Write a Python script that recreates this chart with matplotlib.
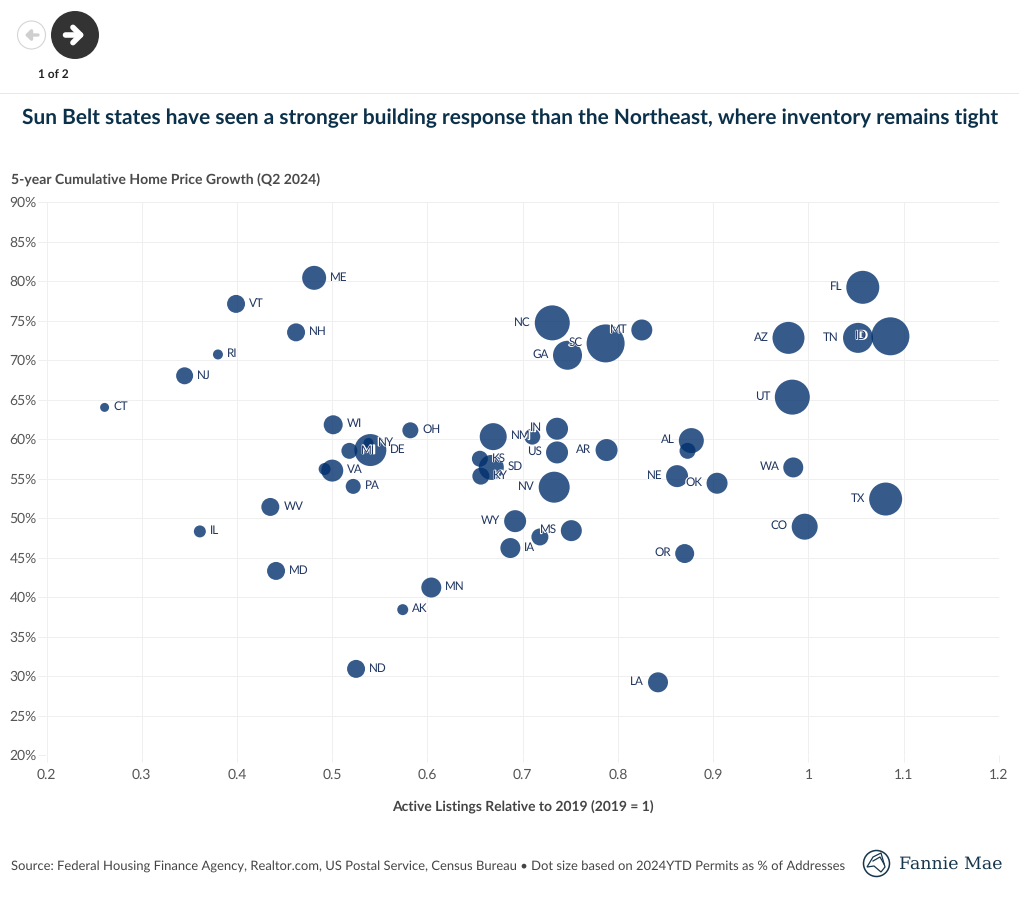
"""Sun Belt building response bubble chart (listings vs home price growth)."""
import matplotlib

matplotlib.use("Agg")
import matplotlib.patheffects as pe
import matplotlib.pyplot as plt
from matplotlib.patches import Circle, Polygon

# %% Data
states = ["ME", "VT", "NH", "RI", "NJ", "CT", "WI", "OH", "MI", "DE", "NY", "VA", "PA", "KS", "KY", "SD",
          "NM", "IN", "US", "AR", "NV", "WY", "IA", "MS", "MN", "AK", "ND", "IL", "MD", "WV", "LA", "OR",
          "CO", "TX", "WA", "OK", "NE", "AL", "AZ", "TN", "ID", "FL", "UT", "NC", "SC", "GA", "MT"]
listings = [0.481, 0.399, 0.462, 0.380, 0.345, 0.261, 0.501, 0.582, 0.518, 0.540, 0.538, 0.500, 0.522, 0.655, 0.656, 0.667,
            0.669, 0.736, 0.736, 0.788, 0.733, 0.692, 0.687, 0.751, 0.604, 0.574, 0.525, 0.361, 0.441, 0.435, 0.842, 0.870,
            0.996, 1.081, 0.984, 0.904, 0.862, 0.877, 0.979, 1.052, 1.086, 1.057, 0.983, 0.731, 0.787, 0.747, 0.825]
price_growth = [80.4, 77.1, 73.5, 70.7, 68.0, 64.0, 61.8, 61.1, 58.5, 58.6, 59.5, 56.0, 54.0, 57.5, 55.3, 56.4,
                60.3, 61.3, 58.3, 58.6, 53.9, 49.6, 46.2, 48.4, 41.2, 38.4, 30.9, 48.3, 43.3, 51.4, 29.2, 45.5,
                48.9, 52.4, 56.4, 54.4, 55.3, 59.8, 72.8, 72.8, 73.0, 79.2, 65.3, 74.7, 72.1, 70.6, 73.8]
dot_size = [24, 18, 18, 10, 17, 9, 19, 16, 16, 32, 10, 22, 15, 16, 17, 25,
            27, 22, 22, 22, 31, 22, 20, 21, 20, 11, 18, 12, 18, 18, 20, 19,
            26, 33, 20, 21, 22, 25, 32, 30, 38, 33, 35, 35, 38, 29, 21]
left_labels = {"NC", "SC", "GA", "MT", "IN", "US", "AR", "NV", "WY", "MS", "LA", "OR", "CO", "TX", "WA", "OK",
               "NE", "AL", "AZ", "TN", "ID", "FL", "UT"}

# dots whose labels are not shown in the original
unlabeled_x = [0.492, 0.710, 0.873, 0.718]
unlabeled_y = [56.2, 60.3, 58.5, 47.6]
unlabeled_size = [12, 16, 16, 17]

x_ticks = [0.2, 0.3, 0.4, 0.5, 0.6, 0.7, 0.8, 0.9, 1.0, 1.1, 1.2]
x_tick_labels = ["0.2", "0.3", "0.4", "0.5", "0.6", "0.7", "0.8", "0.9", "1", "1.1", "1.2"]
y_ticks = list(range(20, 95, 5))

NAVY = "#002f6c"
plt.rcParams["font.family"] = ["Lato", "DejaVu Sans"]
plt.rcParams["text.hinting"] = "no_hinting"


def area(d):
    return (d * 0.72) ** 2


# %% Figure
fig = plt.figure(figsize=(10.2, 9.02), dpi=100)
ax = fig.add_axes([46.5 / 1020, (902 - 755) / 902, 952.5 / 1020, 553 / 902])
ax.set_xlim(0.2, 1.2)
ax.set_ylim(20, 90)
for s in ax.spines.values():
    s.set_visible(False)
ax.set_axisbelow(True)
ax.grid(color="#efefef", lw=0.72)
ax.set_xticks(x_ticks, x_tick_labels)
ax.set_yticks(y_ticks, [f"{v}%" for v in y_ticks])
ax.tick_params(axis="x", length=5, width=0.72, color="#efefef", labelsize=10, labelcolor="#555555", pad=5)
ax.tick_params(axis="y", length=6, width=0.72, color="#efefef", labelsize=10, labelcolor="#555555", pad=1)

ax.scatter(listings, price_growth, s=[area(d) for d in dot_size], color=NAVY, alpha=0.79, lw=0, zorder=3)
ax.scatter(unlabeled_x, unlabeled_y, s=[area(d) for d in unlabeled_size], color=NAVY, alpha=0.79, lw=0, zorder=3)

for name, x, y, d in zip(states, listings, price_growth, dot_size):
    left = name in left_labels
    off = (d / 2 + 4) * 0.72
    # white halo underneath, plain glyphs on top
    kw = dict(xytext=(-off if left else off, 0.5), textcoords="offset points",
              ha="right" if left else "left", va="center", fontsize=8.4, color="#1f3560")
    ax.annotate(name, (x, y), zorder=4, path_effects=[pe.Stroke(linewidth=1.2, foreground="white")], **kw)
    ax.annotate(name, (x, y), zorder=5, **kw)

ax.set_xlabel("Active Listings Relative to 2019 (2019 = 1)", fontsize=9.97, fontweight="bold", color="#444444")
ax.xaxis.set_label_coords(0.5, -0.082)

# %% Page furniture, drawn in pixel coordinates
over = fig.add_axes([0, 0, 1, 1], zorder=5)
over.set_xlim(0, 1020)
over.set_ylim(902, 0)
over.axis("off")
over.patch.set_alpha(0)

over.plot([0, 1020], [92.5, 92.5], color="#e8e8e8", lw=0.72)
over.add_patch(Circle((31.5, 35), 14, fc="white", ec="#d5d5d5", lw=0.8))
over.annotate("", (25, 35), (38, 35), arrowprops=dict(arrowstyle="-|>,head_width=0.3,head_length=0.3",
                                                      color="#cfcfcf", lw=2.4, shrinkA=0, shrinkB=0))
over.add_patch(Circle((75, 35), 24, fc="#333333", ec="none"))
over.annotate("", (84.5, 35), (65.5, 35), arrowprops=dict(arrowstyle="->,head_width=0.55,head_length=0.55",
                                                          color="white", lw=4, shrinkA=0, shrinkB=0))
over.text(53, 74, "1 of 2", ha="center", va="center", fontsize=8.6, fontweight="bold", color="#222222")

over.text(510, 118.5, "Sun Belt states have seen a stronger building response than the Northeast, where inventory remains tight",
          ha="center", va="center", fontsize=15, fontweight="bold", color="#0b3049")
over.text(11, 180.5, "5-year Cumulative Home Price Growth (Q2 2024)", ha="left", va="center", fontsize=10.05,
          fontweight="bold", color="#4a4a4a")
over.text(11, 866, "Source: Federal Housing Finance Agency, Realtor.com, US Postal Service, Census Bureau \u2022 Dot size based on 2024YTD Permits as % of Addresses",
          ha="left", va="center", fontsize=9.38, color="#444444")

# Fannie Mae logo
over.add_patch(Circle((876.5, 863.5), 13, fc="white", ec="#16364d", lw=1.1))
over.add_patch(Polygon([[867, 867], [873, 857], [881, 853], [885, 867], [881, 872], [874, 866]],
                       closed=True, fc="none", ec="#16364d", lw=0.9))
over.plot([873, 880, 884], [861, 857, 864], color="#16364d", lw=0.9)
over.text(899, 864, "Fannie Mae", ha="left", va="center", fontsize=12.5, family="DejaVu Serif", color="#16364d")

fig.savefig("out.png", dpi=100)
